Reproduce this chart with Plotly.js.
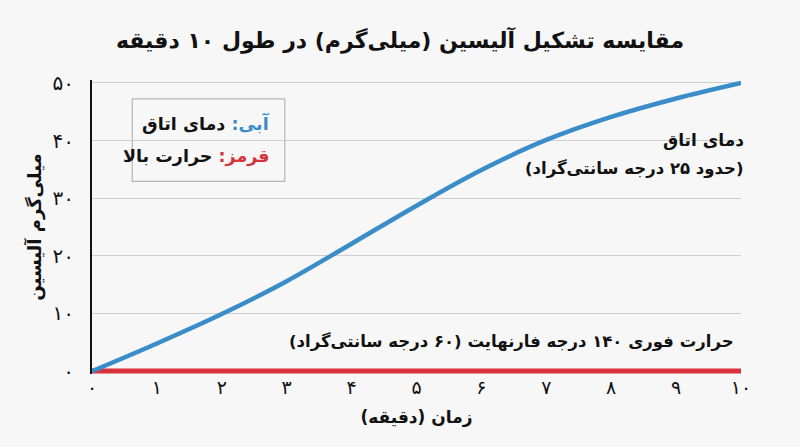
<!DOCTYPE html>
<html>
<head>
<meta charset="utf-8">
<script src="https://cdn.plot.ly/plotly-3.0.1.min.js"></script>
<style>
  body { margin: 0; background: #f7f7f7; }
  #chart { width: 800px; height: 447px; }
</style>
</head>
<body>
<div id="chart"></div>
<script>
// minutes
var minutes = [0, 1, 2, 3, 4, 5, 6, 7, 8, 9, 10];
// allicin (mg) at room temperature
var roomTemp = [0, 4.8, 9.9, 15.6, 22.1, 28.7, 34.9, 40.1, 44.1, 47.3, 50];
// allicin (mg) with immediate heat
var highHeat = [0, 0, 0, 0, 0, 0, 0, 0, 0, 0, 0];

var xTickText = ['۰', '۱', '۲', '۳', '۴', '۵', '۶', '۷', '۸', '۹', '۱۰'];
var yTickVals = [0, 10, 20, 30, 40, 50];
var yTickText = ['۰', '۱۰', '۲۰', '۳۰', '۴۰', '۵۰'];

var FONT = 'DejaVu Sans, sans-serif';
var BLUE = '#3a8dc9';
var RED = '#d8323c';

var data = [
  {
    x: minutes, y: highHeat, mode: 'lines',
    line: {color: RED, width: 5},
    hoverinfo: 'skip'
  },
  {
    x: minutes, y: roomTemp, mode: 'lines',
    line: {color: BLUE, width: 4.5, shape: 'spline', smoothing: 1},
    hoverinfo: 'skip'
  }
];

// a little padding on y so the thick lines at 0 and 50 are not cut in half
var layout = {
  width: 800,
  height: 447,
  margin: {l: 92, r: 59, t: 79.5, b: 73},
  paper_bgcolor: '#f7f7f7',
  plot_bgcolor: '#f7f7f7',
  showlegend: false,
  font: {family: FONT, color: '#111'},
  title: {
    text: '<b>مقایسه تشکیل آلیسین (میلی‌گرم) در طول ۱۰ دقیقه</b>',
    font: {size: 22, color: '#111'},
    x: 0.5, xanchor: 'center', y: 0.91, yanchor: 'middle'
  },
  xaxis: {
    range: [0, 10],
    tickvals: minutes,
    ticktext: xTickText,
    showgrid: false,
    zeroline: false,
    showline: false,
    ticks: '',
    tickfont: {size: 19, color: '#111'},
    title: {text: '<b>زمان (دقیقه)</b>', font: {size: 17}, standoff: 14}
  },
  yaxis: {
    range: [-0.5, 50.5],
    tickvals: yTickVals,
    ticktext: yTickText,
    showgrid: true,
    gridcolor: '#cfcfcf',
    gridwidth: 1,
    zeroline: false,
    showline: true,
    linecolor: '#111',
    linewidth: 2,
    ticks: '',
    ticklabelstandoff: 12,
    tickfont: {size: 20, color: '#111'},
    title: {text: '<b>میلی‌گرم آلیسین</b>', font: {size: 18}, standoff: 6}
  },
  shapes: [
    {
      type: 'rect', xref: 'paper', yref: 'paper',
      x0: 0.062, x1: 0.297, y0: 0.655, y1: 0.936,
      line: {color: '#b5b5b5', width: 1.2},
      fillcolor: '#f7f7f7', layer: 'below'
    }
  ],
  annotations: [
    {
      xref: 'paper', yref: 'paper', x: 0.278, y: 0.855,
      xanchor: 'right', yanchor: 'middle', showarrow: false,
      text: '<b><span style="color:' + BLUE + '">آبی:</span> دمای اتاق</b>',
      font: {size: 17.5, color: '#111'}
    },
    {
      xref: 'paper', yref: 'paper', x: 0.278, y: 0.74,
      xanchor: 'right', yanchor: 'middle', showarrow: false,
      text: '<b><span style="color:' + RED + '">قرمز:</span> حرارت بالا</b>',
      font: {size: 17.5, color: '#111'}
    },
    {
      xref: 'paper', yref: 'paper', x: 1.008, y: 0.795,
      xanchor: 'right', yanchor: 'middle', showarrow: false,
      text: '<b>دمای اتاق</b>',
      font: {size: 17, color: '#111'}
    },
    {
      xref: 'paper', yref: 'paper', x: 1.008, y: 0.70,
      xanchor: 'right', yanchor: 'middle', showarrow: false,
      text: '<b>(حدود ۲۵ درجه سانتی‌گراد)</b>',
      font: {size: 16.5, color: '#111'}
    },
    {
      xref: 'paper', yref: 'paper', x: 0.992, y: 0.11,
      xanchor: 'right', yanchor: 'middle', showarrow: false,
      text: '<b>حرارت فوری ۱۴۰ درجه فارنهایت (۶۰ درجه سانتی‌گراد)</b>',
      font: {size: 16.5, color: '#111'}
    }
  ]
};

Plotly.newPlot('chart', data, layout, {staticPlot: true, displayModeBar: false});
</script>
</body>
</html>
